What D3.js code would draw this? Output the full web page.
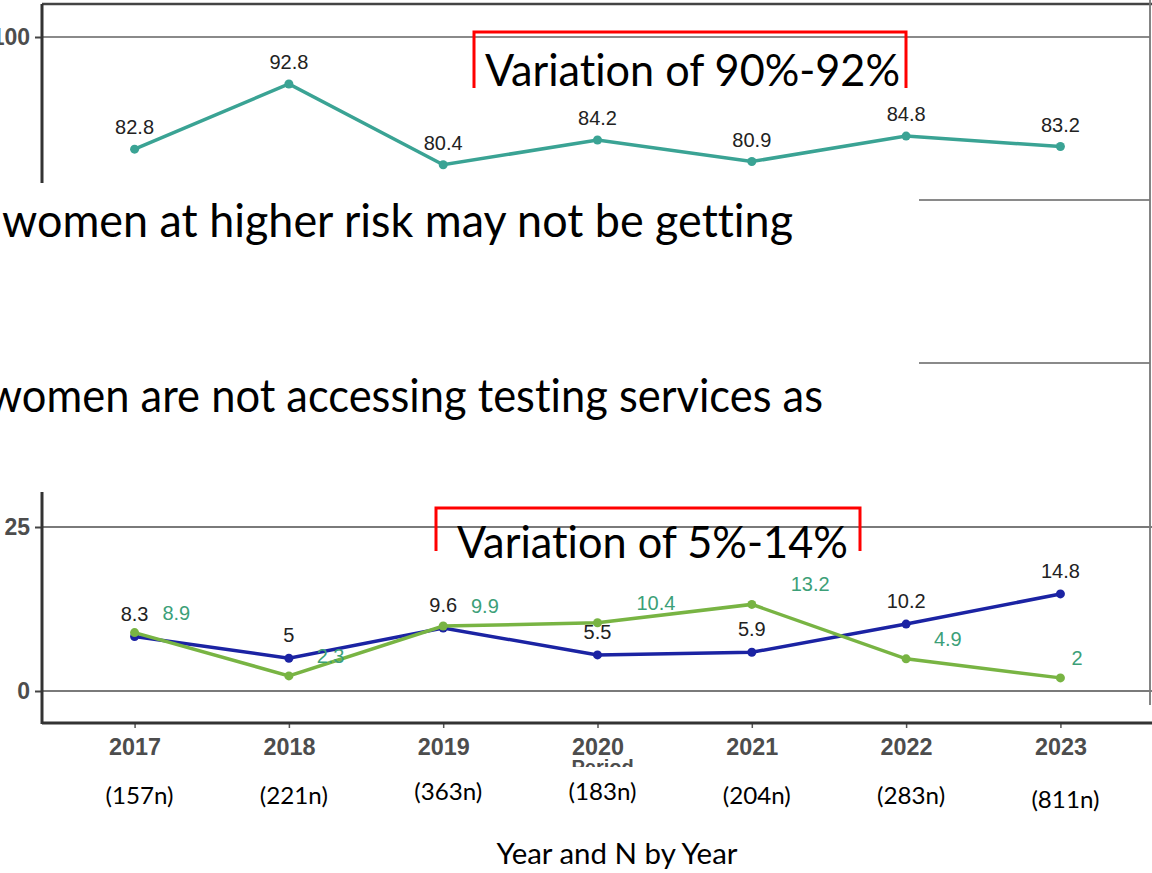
<!DOCTYPE html>
<meta charset="utf-8">
<style>
body { margin: 0; background: #fff; }
.big { font-family: Lato, "Open Sans", sans-serif; fill: #000; font-variant-ligatures: none; }
.val { font-family: "Liberation Sans", Arial, sans-serif; font-size: 20px; }
.tick text { font-family: "Liberation Sans", Arial, sans-serif; font-weight: bold; fill: #4d4d4d; }
</style>
<body>
<script src="https://cdn.jsdelivr.net/npm/d3@7"></script>
<script>
// data
var years = ["2017", "2018", "2019", "2020", "2021", "2022", "2023"];
var sampleN = ["(157n)", "(221n)", "(363n)", "(183n)", "(204n)", "(283n)", "(811n)"];
var topValues = [82.8, 92.8, 80.4, 84.2, 80.9, 84.8, 83.2];
var blueValues = [8.3, 5, 9.6, 5.5, 5.9, 10.2, 14.8];
var greenValues = [8.9, 2.3, 9.9, 10.4, 13.2, 4.9, 2];
var topTicks = [100, 75, 50];
var bottomTicks = [0, 25];

var width = 1152, height = 873;
var left = 42, right = 1152;

var svg = d3.select("body").append("svg")
    .attr("width", width)
    .attr("height", height);

var x = d3.scalePoint().domain(years).range([left, right + 1]).padding(0.6);

var teal = "#3aa394", navy = "#1b23a3", green = "#78b443", greenText = "#3c9f78";

// ---------- top chart (partly covered by a text box) ----------
var yTop = d3.scaleLinear().domain([50, 100]).range([363, 37]);

var defs = svg.append("defs");
var clip = defs.append("clipPath").attr("id", "topclip");
clip.append("rect").attr("x", 0).attr("y", 0).attr("width", width).attr("height", 183);
clip.append("rect").attr("x", 919).attr("y", 0).attr("width", width - 919).attr("height", 372);

var topG = svg.append("g").attr("clip-path", "url(#topclip)");

topG.append("g").selectAll("line")
    .data(topTicks)
  .enter().append("line")
    .attr("x1", left).attr("x2", 1150)
    .attr("y1", function(d) { return yTop(d); })
    .attr("y2", function(d) { return yTop(d); })
    .attr("stroke", "#8a8a8a")
    .attr("stroke-width", 1.8);

// panel frame
topG.append("line").attr("x1", left).attr("x2", right).attr("y1", 4).attr("y2", 4)
    .attr("stroke", "#444").attr("stroke-width", 2.5);

var yAxisTop = d3.axisLeft(yTop).tickValues([100]).tickSizeInner(7).tickSizeOuter(0).tickPadding(5);
var gyt = topG.append("g").attr("transform", "translate(" + left + ",0)").call(yAxisTop);
gyt.select(".domain").remove();
gyt.selectAll(".tick line").attr("stroke", "#444").attr("stroke-width", 2);
gyt.selectAll(".tick text").style("font-size", "23px");
topG.append("line").attr("x1", left).attr("x2", left).attr("y1", 4).attr("y2", 400)
    .attr("stroke", "#333").attr("stroke-width", 3);

var lineTop = d3.line()
    .x(function(d, i) { return x(years[i]); })
    .y(function(d) { return yTop(d); });

topG.append("path").datum(topValues)
    .attr("d", lineTop)
    .attr("fill", "none")
    .attr("stroke", teal)
    .attr("stroke-width", 3.5);

topG.append("g").selectAll("circle").data(topValues).enter().append("circle")
    .attr("cx", function(d, i) { return x(years[i]); })
    .attr("cy", function(d) { return yTop(d); })
    .attr("r", 4.5)
    .attr("fill", teal);

topG.append("g").selectAll("text").data(topValues).enter().append("text")
    .attr("class", "val")
    .attr("x", function(d, i) { return x(years[i]); })
    .attr("y", function(d) { return yTop(d) - 15; })
    .attr("text-anchor", "middle")
    .attr("fill", "#222")
    .text(function(d) { return d; });

// right border running through both panels
svg.append("line").attr("x1", 1150).attr("x2", 1150).attr("y1", 0).attr("y2", 705)
    .attr("stroke", "#777").attr("stroke-width", 1.8);

// overlaid slide text
svg.append("text").attr("class", "big")
    .attr("x", 2).attr("y", 237)
    .attr("font-size", 46)
    .attr("textLength", 791).attr("lengthAdjust", "spacingAndGlyphs")
    .text("women at higher risk may not be getting");

svg.append("text").attr("class", "big")
    .attr("x", -12).attr("y", 412)
    .attr("font-size", 46)
    .attr("textLength", 835).attr("lengthAdjust", "spacingAndGlyphs")
    .text("women are not accessing testing services as");

// ---------- bottom chart ----------
var yBot = d3.scaleLinear().domain([0, 25]).range([691, 527]);

svg.append("g").selectAll("line")
    .data(bottomTicks)
  .enter().append("line")
    .attr("x1", left).attr("x2", right)
    .attr("y1", function(d) { return yBot(d); })
    .attr("y2", function(d) { return yBot(d); })
    .attr("stroke", "#7a7a7a")
    .attr("stroke-width", 1.8);

var yAxisBot = d3.axisLeft(yBot).tickValues(bottomTicks).tickSizeInner(7).tickSizeOuter(0).tickPadding(5);
var gyb = svg.append("g").attr("transform", "translate(" + left + ",0)").call(yAxisBot);
gyb.select(".domain").remove();
gyb.selectAll(".tick line").attr("stroke", "#444").attr("stroke-width", 2);
gyb.selectAll(".tick text").style("font-size", "23px");

svg.append("line").attr("x1", left).attr("x2", left).attr("y1", 492).attr("y2", 724)
    .attr("stroke", "#333").attr("stroke-width", 3);

var xAxis = d3.axisBottom(x).tickSizeInner(5).tickSizeOuter(0).tickPadding(10);
var gx = svg.append("g").attr("transform", "translate(0,723)").call(xAxis);
gx.select(".domain").remove();
gx.selectAll(".tick line").attr("stroke", "#555").attr("stroke-width", 1.5);
gx.selectAll(".tick text").style("font-size", "24px").attr("dy", "0.71em")
    .attr("y", 15).attr("textLength", 52).attr("lengthAdjust", "spacingAndGlyphs");
svg.append("line").attr("x1", left).attr("x2", right).attr("y1", 723).attr("y2", 723)
    .attr("stroke", "#333").attr("stroke-width", 3);

// axis title of the original chart, mostly hidden under the n row
defs.append("clipPath").attr("id", "periodclip")
  .append("rect").attr("x", 0).attr("y", 759).attr("width", width).attr("height", 8);
svg.append("text")
    .attr("clip-path", "url(#periodclip)")
    .attr("x", (x("2020") + x("2021")) / 2 - 72)
    .attr("y", 774)
    .attr("text-anchor", "middle")
    .attr("font-family", "Liberation Sans, Arial, sans-serif")
    .attr("font-weight", "bold")
    .attr("font-size", 20)
    .attr("fill", "#4d4d4d")
    .text("Period");

var lineBot = d3.line()
    .x(function(d, i) { return x(years[i]); })
    .y(function(d) { return yBot(d); });

[[blueValues, navy], [greenValues, green]].forEach(function(s) {
  svg.append("path").datum(s[0])
      .attr("d", lineBot)
      .attr("fill", "none")
      .attr("stroke", s[1])
      .attr("stroke-width", 3.5);
  svg.append("g").selectAll("circle").data(s[0]).enter().append("circle")
      .attr("cx", function(d, i) { return x(years[i]); })
      .attr("cy", function(d) { return yBot(d); })
      .attr("r", 4.5)
      .attr("fill", s[1]);
});

svg.append("g").selectAll("text").data(blueValues).enter().append("text")
    .attr("class", "val")
    .attr("x", function(d, i) { return x(years[i]); })
    .attr("y", function(d) { return yBot(d) - 16; })
    .attr("text-anchor", "middle")
    .attr("fill", "#222")
    .text(function(d) { return d; });

// green labels sit one label-width to the right (hjust = -1)
svg.append("g").selectAll("text").data(greenValues).enter().append("text")
    .attr("class", "val")
    .attr("y", function(d) { return yBot(d) - 13; })
    .attr("fill", greenText)
    .text(function(d) { return d; })
    .attr("x", function(d, i) { return x(years[i]) + this.getComputedTextLength(); });

// n row and title
svg.append("g").selectAll("text").data(sampleN).enter().append("text")
    .attr("class", "big")
    .attr("x", function(d, i) { return x(years[i]) + 5; })
    .attr("y", function(d, i) { return i === 2 || i === 3 ? 800 : (i === 6 ? 808 : 804); })
    .attr("text-anchor", "middle")
    .attr("font-size", 24)
    .attr("textLength", 68).attr("lengthAdjust", "spacingAndGlyphs")
    .text(function(d) { return d; });

svg.append("text").attr("class", "big")
    .attr("x", 617).attr("y", 864)
    .attr("text-anchor", "middle")
    .attr("font-size", 29)
    .attr("textLength", 241).attr("lengthAdjust", "spacingAndGlyphs")
    .text("Year and N by Year");

// red brackets with their notes
var bracket = function(x0, x1, yTopLine, yEnd) {
  svg.append("path")
      .attr("d", "M" + x0 + "," + yEnd + "V" + yTopLine + "H" + x1 + "V" + yEnd)
      .attr("fill", "none")
      .attr("stroke", "#ff0000")
      .attr("stroke-width", 3);
};
bracket(474, 906, 32, 88);
bracket(436, 860, 508, 551);

svg.append("text").attr("class", "big")
    .attr("x", 485).attr("y", 86)
    .attr("font-size", 44)
    .attr("textLength", 415).attr("lengthAdjust", "spacingAndGlyphs")
    .text("Variation of 90%-92%");

svg.append("text").attr("class", "big")
    .attr("x", 457).attr("y", 558)
    .attr("font-size", 44)
    .attr("textLength", 391).attr("lengthAdjust", "spacingAndGlyphs")
    .text("Variation of 5%-14%");
</script>
